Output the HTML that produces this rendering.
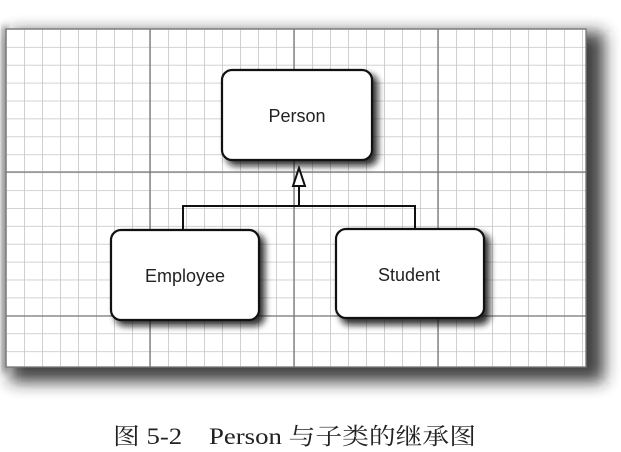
<!DOCTYPE html>
<html><head><meta charset="utf-8"><style>
html,body{margin:0;padding:0;background:#fff;width:621px;height:452px;overflow:hidden}
</style></head><body>
<svg width="621" height="452" viewBox="0 0 621 452" xmlns="http://www.w3.org/2000/svg">
<defs>
<filter id="sh" x="-20%" y="-20%" width="140%" height="140%"><feGaussianBlur stdDeviation="8"/></filter>
<filter id="bs" x="-20%" y="-20%" width="150%" height="150%"><feGaussianBlur stdDeviation="3.5"/></filter>
<pattern id="minor" x="6" y="29" width="18" height="17.9" patternUnits="userSpaceOnUse">
<path d="M0 0V17.9M0 0H18" stroke="#c4c4c4" stroke-width="1.6" fill="none"/>
</pattern>
</defs>
<rect x="10" y="32" width="594" height="350" fill="#222" filter="url(#sh)" opacity="0.85"/>
<rect x="2" y="26" width="6" height="346" fill="#555" filter="url(#bs)" opacity="0.6"/>
<rect x="6" y="29" width="580" height="338" fill="#fff"/>
<rect x="6" y="29" width="580" height="338" fill="url(#minor)"/>
<g stroke="#777" stroke-width="1.3">
<line x1="150" y1="29" x2="150" y2="367"/><line x1="294" y1="29" x2="294" y2="367"/><line x1="438" y1="29" x2="438" y2="367"/>
<line x1="6" y1="172" x2="586" y2="172"/><line x1="6" y1="316" x2="586" y2="316"/>
<rect x="6" y="29" width="580" height="338" fill="none"/>
</g>
<g fill="#111" filter="url(#bs)" opacity="0.85">
<rect x="226" y="74" width="152" height="92" rx="10"/>
<rect x="115" y="234" width="150" height="92" rx="10"/>
<rect x="340" y="233" width="150" height="92" rx="10"/>
</g>
<g fill="#fff" stroke="#111" stroke-width="2.2">
<rect x="222" y="70" width="150" height="90" rx="10"/>
<rect x="111" y="230" width="148" height="90" rx="10"/>
<rect x="336" y="229" width="148" height="89" rx="10"/>
</g>
<g stroke="#111" stroke-width="2" fill="none">
<path d="M183 230V206H415V229"/>
<line x1="299" y1="206" x2="299" y2="186"/>
<path d="M299 168L293 186H305Z" fill="#fff"/>
</g>
<g font-family="Liberation Sans, sans-serif" font-size="18" fill="#222" text-anchor="middle">
<text x="297" y="122">Person</text>
<text x="185" y="282">Employee</text>
<text x="409" y="281">Student</text>
</g>
<text x="113" y="444" font-family="Liberation Serif, Noto Serif CJK SC, serif" font-size="23" fill="#222" textLength="363" lengthAdjust="spacingAndGlyphs">图 5-2　Person 与子类的继承图</text>
</svg>
</body></html>
